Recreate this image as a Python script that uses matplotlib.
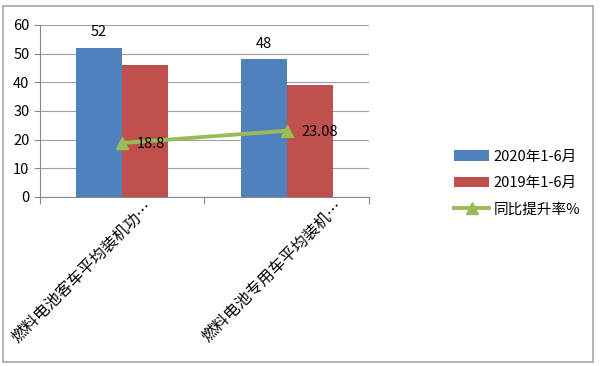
import matplotlib
matplotlib.use("Agg")
import matplotlib.pyplot as plt
import numpy as np
from matplotlib.patches import Rectangle

plt.rcParams["font.family"] = ["Noto Sans CJK SC", "DejaVu Sans"]

categories = ["燃料电池客车平均装机功…", "燃料电池专用车平均装机…"]
v2020 = [52, 48]
v2019 = [46, 39]
growth = [18.8, 23.08]
labels = ["2020年1-6月", "2019年1-6月", "同比提升率%"]

BLUE, RED, GREEN = "#4F81BD", "#C0504D", "#9BBB59"

fig = plt.figure(figsize=(6, 3.66), dpi=100)
ax = fig.add_axes([0.0667, 0.462, 0.548, 0.47])
x = np.arange(len(categories))
w = 0.28
b1 = ax.bar(x - w / 2, v2020, w, color=BLUE, label=labels[0], zorder=2)
b2 = ax.bar(x + w / 2, v2019, w, color=RED, label=labels[1], zorder=2)
ln, = ax.plot(x, growth, color=GREEN, lw=2.8, marker="^", ms=8, label=labels[2], zorder=3)

for xi, v in zip(x, v2020):
    ax.text(xi - w / 2, v + 3, f"{v}", ha="center", va="bottom", fontsize=10.5)
for xi, v in zip(x, growth):
    ax.text(xi + 0.09, v - 0.5, f"{v}", ha="left", va="center", fontsize=10.5)

ax.set_xlim(-0.5, 1.5)
ax.set_ylim(0, 60)
ax.set_yticks(range(0, 61, 10))
ax.yaxis.grid(True, color="#A0A0A0", lw=0.8, zorder=0)
ax.set_axisbelow(True)
for s in ["top", "right"]:
    ax.spines[s].set_visible(False)
ax.spines["left"].set_color("#888888")
ax.spines["bottom"].set_color("#888888")
ax.tick_params(axis="y", labelsize=10.5, length=4, color="#888888")
ax.set_xticks([-0.5, 0.5, 1.5])
ax.set_xticklabels([])
ax.tick_params(axis="x", length=5, color="#888888")

label_x = [0.17, 1.33]
for lx, name in zip(label_x, categories):
    ax.text(lx, -0.045, name, transform=ax.get_xaxis_transform(), rotation=45,
            rotation_mode="anchor", ha="right", va="center", fontsize=11.5)

fig.legend(handles=[b1, b2, ln], labels=labels, loc="center left",
           bbox_to_anchor=(0.735, 0.5), frameon=False, fontsize=10.5,
           handlelength=2.4, labelspacing=0.85, handletextpad=0.3)

fig.patches.append(Rectangle((0.005, 0.011), 0.984, 0.973, transform=fig.transFigure,
                             fill=False, edgecolor="#A6A6A6", lw=1.2))

fig.savefig("out.png", dpi=100)
